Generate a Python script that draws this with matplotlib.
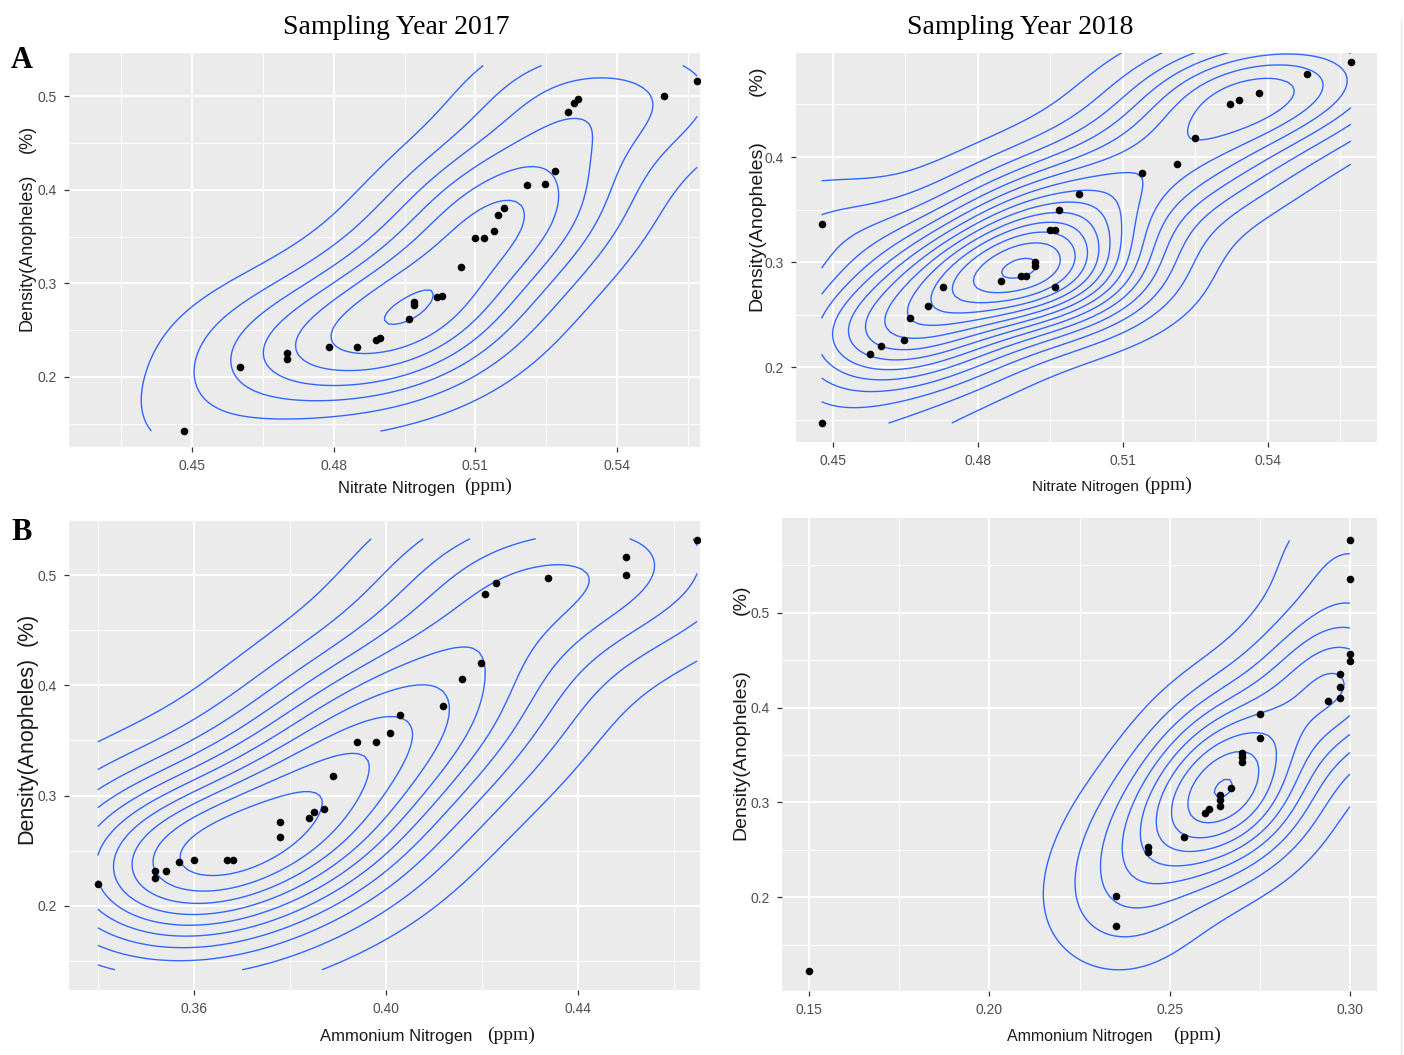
import numpy as np
import matplotlib
matplotlib.use("Agg")
import matplotlib.pyplot as plt
from matplotlib.ticker import FixedLocator, FixedFormatter
from matplotlib.lines import Line2D

W, H = 1404, 1055

# ------------------------------------------------------------------ data
nitrate_2017 = [0.4482, 0.4601, 0.4701, 0.4701, 0.4790, 0.4849, 0.4890, 0.4899,
                0.4960, 0.4970, 0.4970, 0.5019, 0.5029, 0.5069, 0.5100, 0.5119,
                0.5139, 0.5149, 0.5160, 0.5209, 0.5248, 0.5268, 0.5297, 0.5308,
                0.5318, 0.5500, 0.5570]
density_nitrate_2017 = [0.142, 0.211, 0.226, 0.219, 0.232, 0.232, 0.239, 0.242,
                        0.262, 0.277, 0.280, 0.285, 0.287, 0.317, 0.348, 0.348,
                        0.356, 0.373, 0.381, 0.405, 0.406, 0.420, 0.483, 0.493,
                        0.497, 0.500, 0.516]

ammonium_2017 = [0.3400, 0.3519, 0.3519, 0.3541, 0.3570, 0.3600, 0.3670, 0.3681,
                 0.3779, 0.3779, 0.3840, 0.3850, 0.3870, 0.3889, 0.3939, 0.3980,
                 0.4009, 0.4030, 0.4119, 0.4159, 0.4197, 0.4207, 0.4230, 0.4337,
                 0.4500, 0.4500, 0.4648]
density_ammonium_2017 = [0.2195, 0.2320, 0.2255, 0.2320, 0.2394, 0.2419, 0.2419, 0.2419,
                         0.2760, 0.2624, 0.2792, 0.2848, 0.2877, 0.3173, 0.3482, 0.3482,
                         0.3564, 0.3729, 0.3811, 0.4053, 0.4199, 0.4833, 0.4927, 0.4972,
                         0.5167, 0.5000, 0.5316]

nitrate_2018 = [0.4477, 0.4477, 0.4577, 0.4599, 0.4648, 0.4659, 0.4698, 0.4728,
                0.4848, 0.4889, 0.4900, 0.4919, 0.4919, 0.4949, 0.4960, 0.4960,
                0.4968, 0.5010, 0.5140, 0.5212, 0.5250, 0.5321, 0.5341, 0.5382,
                0.5482, 0.5572]
density_nitrate_2018 = [0.3363, 0.1470, 0.2127, 0.2206, 0.2257, 0.2469, 0.2580, 0.2764,
                        0.2818, 0.2871, 0.2871, 0.2998, 0.2960, 0.3309, 0.3309, 0.2764,
                        0.3499, 0.3648, 0.3848, 0.3937, 0.4181, 0.4504, 0.4545, 0.4609,
                        0.4793, 0.4903]

ammonium_2018 = [0.150, 0.235, 0.235, 0.244, 0.244, 0.2539, 0.2597, 0.2610,
                 0.2640, 0.2640, 0.2640, 0.2671, 0.2700, 0.2700, 0.2700, 0.2750,
                 0.2750, 0.2940, 0.2972, 0.2972, 0.2972, 0.300, 0.300, 0.300, 0.300]
density_ammonium_2018 = [0.1223, 0.1696, 0.2008, 0.2481, 0.2525, 0.2635, 0.2892, 0.2928,
                         0.2965, 0.3020, 0.3075, 0.3148, 0.3423, 0.3478, 0.3522, 0.3680,
                         0.3937, 0.4065, 0.4102, 0.4212, 0.4351, 0.4487, 0.4560, 0.5356,
                         0.5763]

x_ticks_nitrate = [0.45, 0.48, 0.51, 0.54]
x_labels_nitrate = ["0.45", "0.48", "0.51", "0.54"]
x_ticks_amm_2017 = [0.36, 0.40, 0.44]
x_labels_amm_2017 = ["0.36", "0.40", "0.44"]
x_ticks_amm_2018 = [0.15, 0.20, 0.25, 0.30]
x_labels_amm_2018 = ["0.15", "0.20", "0.25", "0.30"]
y_ticks = [0.2, 0.3, 0.4, 0.5]
y_labels = ["0.2", "0.3", "0.4", "0.5"]

titles = ["Sampling Year 2017", "Sampling Year 2018"]
row_tags = ["A", "B"]


# ------------------------------------------------------------------ helpers
def bandwidth_nrd(v):
    v = np.asarray(v, float)
    q1, q3 = np.quantile(v, [0.25, 0.75])
    h = (q3 - q1) / 1.34
    return 4 * 1.06 * min(np.std(v, ddof=1), h) * len(v) ** (-0.2)


def kde2d(x, y, lims, adjust=(1.0, 1.0), n=100):
    x = np.asarray(x, float)
    y = np.asarray(y, float)
    gx = np.linspace(lims[0], lims[1], n)
    gy = np.linspace(lims[2], lims[3], n)
    hx = bandwidth_nrd(x) * adjust[0] / 4
    hy = bandwidth_nrd(y) * adjust[1] / 4
    kx = np.exp(-0.5 * ((gx[:, None] - x[None, :]) / hx) ** 2) / np.sqrt(2 * np.pi)
    ky = np.exp(-0.5 * ((gy[:, None] - y[None, :]) / hy) ** 2) / np.sqrt(2 * np.pi)
    z = kx @ ky.T / (len(x) * hx * hy)
    return gx, gy, z


def fx(px):
    return px / W


def fy(py):
    return 1 - py / H


# ------------------------------------------------------------------ figure
fig = plt.figure(figsize=(W / 100, H / 100), dpi=100)
fig.patch.set_facecolor("white")

SANS = ["Liberation Sans", "DejaVu Sans"]
SERIF = ["Liberation Serif", "DejaVu Serif"]

panels = [
    dict(x=nitrate_2017, y=density_nitrate_2017, box=(69, 700, 53, 447),
         xlim=(0.4239, 0.5576), ylim=(0.125, 0.5464),
         grid=(0.430, 0.557, 0.142, 0.533), adjust=(1.15, 0.9), binwidth=9,
         xt=x_ticks_nitrate, xl=x_labels_nitrate,
         xminor=[0.435, 0.465, 0.495, 0.525, 0.555],
         yminor=[0.15, 0.25, 0.35, 0.45]),
    dict(x=nitrate_2018, y=density_nitrate_2018, box=(796, 1377, 53, 442),
         xlim=(0.4424, 0.5626), ylim=(0.129, 0.4989),
         grid=(0.4477, 0.5572, 0.147, 0.52), adjust=(0.95, 0.78), binwidth=6,
         xt=x_ticks_nitrate, xl=x_labels_nitrate,
         xminor=[0.465, 0.495, 0.525, 0.555],
         yminor=[0.15, 0.25, 0.35, 0.45]),
    dict(x=ammonium_2017, y=density_ammonium_2017, box=(69, 700, 520, 990),
         xlim=(0.334, 0.4654), ylim=(0.1236, 0.550),
         grid=(0.340, 0.4648, 0.142, 0.533), adjust=(1.0, 1.0), binwidth=5,
         xt=x_ticks_amm_2017, xl=x_labels_amm_2017,
         xminor=[0.34, 0.38, 0.42, 0.46],
         yminor=[0.15, 0.25, 0.35, 0.45, 0.55]),
    dict(x=ammonium_2018, y=density_ammonium_2018, box=(782, 1377, 518, 991),
         xlim=(0.1425, 0.3075), ylim=(0.101, 0.600),
         grid=(0.15, 0.30, 0.1223, 0.5763), adjust=(1.0, 1.0), binwidth=8.5,
         xt=x_ticks_amm_2018, xl=x_labels_amm_2018,
         xminor=[0.175, 0.225, 0.275],
         yminor=[0.15, 0.25, 0.35, 0.45, 0.55]),
]

for p in panels:
    l, r, t, b = p["box"]
    ax = fig.add_axes([fx(l), fy(b), (r - l) / W, (b - t) / H])
    ax.set_facecolor("#EBEBEB")
    for s in ax.spines.values():
        s.set_visible(False)
    ax.set_xlim(*p["xlim"])
    ax.set_ylim(*p["ylim"])

    ax.xaxis.set_major_locator(FixedLocator(p["xt"]))
    ax.xaxis.set_major_formatter(FixedFormatter(p["xl"]))
    ax.yaxis.set_major_locator(FixedLocator(y_ticks))
    ax.yaxis.set_major_formatter(FixedFormatter(y_labels))
    ax.xaxis.set_minor_locator(FixedLocator(p["xminor"]))
    ax.yaxis.set_minor_locator(FixedLocator(p["yminor"]))
    ax.grid(which="major", color="white", lw=1.4, zorder=0)
    ax.grid(which="minor", color="white", lw=0.7, zorder=0)
    ax.set_axisbelow(True)
    ax.tick_params(which="major", length=3.5, width=0.9, color="#333333",
                   labelsize=10, labelcolor="#4D4D4D", pad=5)
    ax.tick_params(which="minor", length=0)
    for lab in ax.get_xticklabels() + ax.get_yticklabels():
        lab.set_family(SANS)

    gx, gy, z = kde2d(p["x"], p["y"], p["grid"], adjust=p["adjust"])
    levels = np.arange(p["binwidth"], z.max(), p["binwidth"])
    ax.contour(gx, gy, z.T, levels=levels, colors="#3366FF",
               linewidths=1.0, zorder=2)
    ax.scatter(p["x"], p["y"], s=30, c="black", zorder=3, linewidths=0)

# ------------------------------------------------------------------ text
fig.text(fx(396), fy(27), titles[0], family=SERIF, fontsize=20,
         ha="center", va="center")
fig.text(fx(1020), fy(27), titles[1], family=SERIF, fontsize=20,
         ha="center", va="center")
fig.text(fx(22), fy(60), row_tags[0], family=SERIF, fontsize=22,
         fontweight="bold", ha="center", va="center")
fig.text(fx(22), fy(533), row_tags[1], family=SERIF, fontsize=22,
         fontweight="bold", ha="center", va="center")

# x labels: sans part + serif "(ppm)"
xlabels = [
    ("Nitrate Nitrogen", 338, 12, 464, 488),
    ("Nitrate Nitrogen", 1032, 11, 1144, 487),
    ("Ammonium Nitrogen", 320, 12, 487, 1037),
    ("Ammonium Nitrogen", 1007, 11.5, 1173, 1037),
]
for txt, x0, fs, xp, yc in xlabels:
    fig.text(fx(x0), fy(yc), txt, family=SANS, fontsize=fs,
             ha="left", va="center", color="#1a1a1a")
    fig.text(fx(xp), fy(yc - 2), "(ppm)", family=SERIF, fontsize=14,
             ha="left", va="center", color="#1a1a1a")

# y labels
ylabels = [
    (27, 252, 13, 139),
    (757, 226, 14, 81),
    (27, 750, 15.5, 629),
    (741, 755, 14, 600),
]
for xc, yc, fs, ypc in ylabels:
    fig.text(fx(xc), fy(yc), "Density(Anopheles)", family=SANS, fontsize=fs,
             rotation=90, ha="center", va="center", color="#1a1a1a")
    fig.text(fx(xc), fy(ypc), "(%)", family=SANS, fontsize=fs,
             rotation=90, ha="center", va="center", color="#1a1a1a")

# faint right border
fig.add_artist(Line2D([fx(1401), fx(1401)], [fy(20), fy(1055)],
                      color="#E6E6E6", lw=1.0))

fig.savefig("out.png", dpi=100, facecolor="white")
